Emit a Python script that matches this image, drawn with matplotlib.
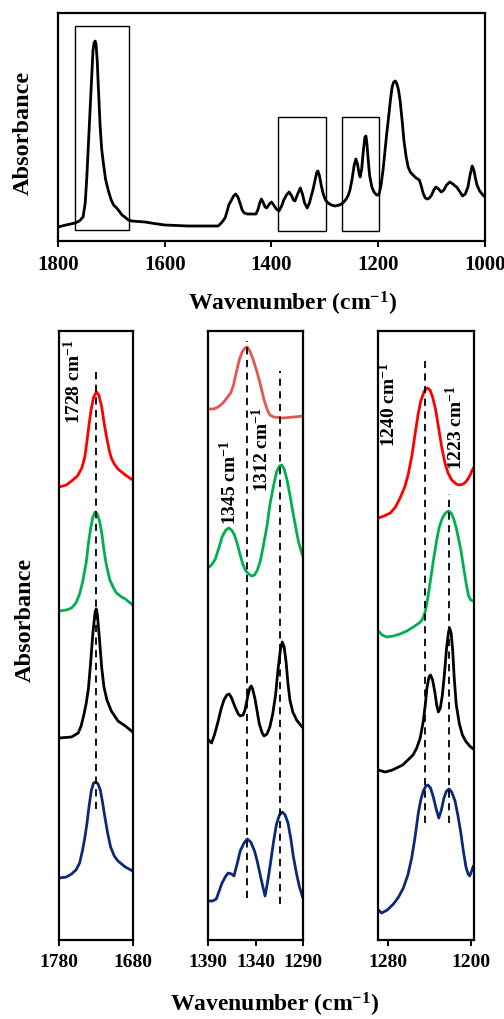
import matplotlib
matplotlib.use("Agg")
import matplotlib.pyplot as plt
import matplotlib.patches as patches

plt.rcParams['font.family'] = ['Liberation Serif', 'DejaVu Serif']
plt.rcParams['font.weight'] = 'bold'
plt.rcParams['mathtext.fontset'] = 'custom'
plt.rcParams['mathtext.rm'] = 'Liberation Serif:bold'
plt.rcParams['mathtext.bf'] = 'Liberation Serif:bold'
plt.rcParams['mathtext.default'] = 'bf'

# full spectrum, (wavenumber, absorbance a.u.)
full_spec = [
    (1800, 0.14), (1785, 0.16), (1768, 0.18), (1760, 0.20), (1753, 0.24), (1749, 0.38),
    (1746, 0.64), (1743, 0.97), (1740, 1.31), (1737, 1.64), (1734.5, 1.90), (1732.5, 1.98),
    (1730.5, 2.00), (1728.8, 1.97), (1726.5, 1.80), (1724.5, 1.55), (1721, 1.14), (1718, 0.91),
    (1715, 0.78), (1711, 0.62), (1706, 0.51), (1701, 0.42), (1696, 0.36), (1690, 0.33),
    (1687, 0.31), (1680, 0.26), (1675, 0.24), (1668, 0.21), (1662, 0.20), (1650, 0.195),
    (1637, 0.19), (1620, 0.175), (1600, 0.16), (1580, 0.155), (1556, 0.15), (1530, 0.15),
    (1500, 0.15), (1494, 0.18), (1487, 0.23), (1483, 0.30), (1480, 0.36), (1475, 0.41),
    (1471, 0.45), (1467, 0.47), (1463, 0.44), (1459, 0.38), (1455, 0.31), (1451, 0.28),
    (1445, 0.27), (1440, 0.27), (1429, 0.27), (1425, 0.32), (1422, 0.38), (1419, 0.42),
    (1416, 0.39), (1412, 0.34), (1409, 0.33), (1404, 0.37), (1400, 0.39), (1396, 0.36),
    (1391, 0.32), (1386, 0.30), (1381, 0.35), (1377, 0.41), (1372, 0.46), (1367, 0.49),
    (1362, 0.45), (1359, 0.41), (1356, 0.40), (1351, 0.47), (1346, 0.53), (1342, 0.47),
    (1338, 0.38), (1333, 0.33), (1329, 0.38), (1325, 0.46), (1322, 0.52), (1318, 0.62),
    (1315, 0.69), (1313, 0.70), (1310, 0.65), (1307, 0.56), (1303, 0.47), (1299, 0.41),
    (1294, 0.38), (1288, 0.36), (1281, 0.35), (1273, 0.36), (1266, 0.38), (1260, 0.42),
    (1256, 0.46), (1253, 0.51), (1249, 0.62), (1245, 0.76), (1242, 0.82), (1239, 0.77),
    (1236, 0.68), (1234, 0.64), (1231, 0.72), (1228, 0.90), (1225, 1.04), (1223, 1.05),
    (1221, 0.96), (1218, 0.76), (1216, 0.65), (1212, 0.54), (1208, 0.49), (1203, 0.46),
    (1199, 0.46), (1195, 0.55), (1191, 0.71), (1187, 0.92), (1184, 1.08), (1181, 1.22),
    (1177, 1.42), (1174, 1.54), (1171, 1.59), (1168, 1.60), (1165, 1.57), (1162, 1.51),
    (1159, 1.40), (1155, 1.19), (1152, 1.01), (1148, 0.85), (1144, 0.74), (1140, 0.69),
    (1135, 0.66), (1129, 0.63), (1123, 0.61), (1120, 0.56), (1116, 0.48), (1112, 0.43),
    (1108, 0.42), (1104, 0.43), (1100, 0.46), (1096, 0.51), (1092, 0.54), (1087, 0.52),
    (1082, 0.49), (1077, 0.51), (1072, 0.56), (1066, 0.59), (1060, 0.57), (1056, 0.55),
    (1053, 0.54), (1048, 0.50), (1042, 0.45), (1037, 0.47), (1032, 0.54), (1028, 0.66),
    (1024, 0.75), (1021, 0.71), (1018, 0.63), (1015, 0.56), (1010, 0.50), (1004, 0.46),
    (1000, 0.44)]
# highlighted regions: (wn high, wn low, abs low, abs high)
boxes = [(1768, 1666.5, 0.11, 2.15), (1387.5, 1298, 0.10, 1.24), (1268, 1198.3, 0.10, 1.24)]

# zoomed panel 1 (C=O region), stacked curves
p1_red = [(1780, 4.53), (1770, 4.55), (1763, 4.59), (1755, 4.64), (1749, 4.72), (1745, 4.83),
          (1742, 4.99), (1739, 5.17), (1736, 5.32), (1733, 5.43), (1729, 5.48), (1726, 5.45),
          (1722, 5.33), (1719, 5.18), (1716, 5.05), (1712, 4.90), (1709, 4.82), (1705, 4.76),
          (1700, 4.71), (1695, 4.68), (1690, 4.65), (1680, 4.60)]
p1_green = [(1780, 3.29), (1770, 3.30), (1763, 3.32), (1757, 3.37), (1752, 3.46), (1748, 3.58),
            (1743, 3.78), (1740, 3.97), (1737, 4.12), (1734, 4.23), (1731, 4.28), (1728, 4.26),
            (1725, 4.19), (1722, 4.07), (1719, 3.90), (1716, 3.76), (1711, 3.60), (1706, 3.52),
            (1702, 3.47), (1695, 3.43), (1690, 3.41), (1680, 3.35)]
p1_black = [(1780, 2.02), (1763, 2.03), (1754, 2.07), (1750, 2.14), (1746, 2.26), (1743, 2.37),
            (1740, 2.52), (1737, 2.78), (1734, 3.07), (1731, 3.28), (1729.5, 3.31), (1728, 3.26),
            (1725, 3.00), (1722, 2.72), (1719, 2.53), (1715, 2.40), (1709, 2.29), (1700, 2.19),
            (1690, 2.14), (1680, 2.08)]
p1_blue = [(1780, 0.62), (1770, 0.63), (1763, 0.66), (1757, 0.70), (1752, 0.77), (1748, 0.90),
           (1745, 1.02), (1742, 1.17), (1739, 1.35), (1736, 1.50), (1733, 1.57), (1730, 1.58),
           (1727, 1.56), (1724, 1.50), (1721, 1.38), (1718, 1.24), (1714, 1.07), (1710, 0.93),
           (1705, 0.84), (1700, 0.79), (1690, 0.73), (1680, 0.69)]

# zoomed panel 2 (1390-1290)
p2_red = [(1390, 5.31), (1384, 5.31), (1379, 5.33), (1374, 5.37), (1370, 5.42), (1366, 5.47),
          (1363, 5.55), (1360, 5.68), (1357, 5.80), (1354, 5.88), (1351, 5.92), (1348.5, 5.93),
          (1346, 5.89), (1343, 5.82), (1339, 5.70), (1335, 5.56), (1331, 5.40), (1328, 5.31),
          (1325, 5.25), (1321, 5.23), (1311, 5.22), (1300, 5.23), (1290, 5.24)]
p2_green = [(1390, 3.72), (1386, 3.75), (1382, 3.81), (1378, 3.93), (1375, 4.03), (1371, 4.10),
            (1368, 4.12), (1365, 4.10), (1362, 4.05), (1359, 3.96), (1356, 3.85), (1353, 3.75),
            (1350, 3.69), (1347, 3.66), (1344, 3.64), (1341, 3.65), (1338, 3.70), (1335, 3.79),
            (1332, 3.93), (1328, 4.14), (1325, 4.35), (1321, 4.55), (1318, 4.68), (1315, 4.74),
            (1312.5, 4.75), (1310, 4.71), (1307, 4.60), (1304, 4.45), (1300.5, 4.26),
            (1297, 4.08), (1295, 3.98), (1292, 3.88), (1290, 3.83)]
p2_black = [(1390, 2.01), (1386, 1.97), (1383, 2.05), (1379, 2.19), (1376, 2.31), (1373, 2.40),
            (1370, 2.45), (1367.5, 2.46), (1365, 2.42), (1361, 2.32), (1358, 2.26), (1356, 2.24),
            (1353, 2.25), (1351, 2.30), (1348, 2.44), (1346, 2.52), (1344.5, 2.54), (1343, 2.51),
            (1340.5, 2.41), (1338, 2.27), (1336, 2.16), (1333, 2.07), (1331, 2.04), (1328, 2.06),
            (1325, 2.13), (1322, 2.26), (1319, 2.45), (1316.5, 2.70), (1314, 2.90), (1312, 2.98),
            (1310, 2.93), (1308, 2.78), (1306, 2.56), (1304, 2.40), (1301, 2.28), (1297, 2.20),
            (1293, 2.15), (1290, 2.12)]
p2_blue = [(1390, 0.39), (1385, 0.39), (1381, 0.41), (1378, 0.49), (1375, 0.57), (1371, 0.64),
           (1368.5, 0.67), (1365, 0.66), (1362.5, 0.64), (1359, 0.77), (1356, 0.89), (1352, 0.97),
           (1348.6, 1.01), (1345, 0.98), (1341, 0.89), (1338, 0.78), (1334.6, 0.63), (1332, 0.52),
           (1330, 0.44), (1327, 0.60), (1324, 0.79), (1321, 0.99), (1318, 1.16), (1315, 1.25),
           (1312, 1.28), (1309, 1.25), (1306, 1.17), (1303, 1.01), (1300.5, 0.84), (1297, 0.66),
           (1294, 0.53), (1290, 0.41)]

# zoomed panel 3 (1290-1197)
p3_red = [(1289.7, 4.22), (1284, 4.24), (1278, 4.27), (1273, 4.33), (1268.6, 4.42), (1264, 4.53),
          (1260.6, 4.66), (1257, 4.85), (1254, 5.06), (1251, 5.26), (1248.5, 5.39), (1245, 5.49),
          (1242, 5.52), (1239.5, 5.50), (1237, 5.43), (1234, 5.30), (1231, 5.11), (1228, 4.92),
          (1225, 4.77), (1222, 4.67), (1218.4, 4.60), (1214, 4.56), (1211, 4.55), (1207, 4.56),
          (1204, 4.59), (1201, 4.64), (1197.5, 4.72)]
p3_green = [(1289.7, 3.09), (1286, 3.05), (1281.5, 3.03), (1275, 3.04), (1268.6, 3.06),
            (1262, 3.09), (1255.7, 3.13), (1250, 3.17), (1246.6, 3.21), (1244, 3.29),
            (1241.2, 3.45), (1239, 3.60), (1236.3, 3.79), (1233, 4.00), (1230.5, 4.13),
            (1227.5, 4.22), (1224.5, 4.27), (1221.5, 4.29), (1219, 4.27), (1216.5, 4.21),
            (1214, 4.12), (1211.5, 4.00), (1209.4, 3.89), (1206.5, 3.70), (1204, 3.54),
            (1202, 3.44), (1200, 3.40), (1197.5, 3.39)]
p3_black = [(1289.7, 1.70), (1283, 1.68), (1276, 1.70), (1272, 1.72), (1266, 1.75), (1262, 1.79),
            (1256, 1.85), (1252.4, 1.92), (1249, 2.02), (1246, 2.19), (1244, 2.36),
            (1242.5, 2.52), (1240.5, 2.63), (1239, 2.65), (1237, 2.60), (1235, 2.49),
            (1233, 2.35), (1231.4, 2.28), (1229.5, 2.32), (1227.5, 2.45), (1225.5, 2.66),
            (1223.5, 2.91), (1221.5, 3.08), (1220.5, 3.12), (1219, 3.07), (1217.5, 2.90),
            (1216, 2.62), (1214, 2.35), (1211, 2.16), (1208, 2.05), (1205, 1.99), (1201, 1.94),
            (1197.5, 1.91)]
p3_blue = [(1289.7, 0.30), (1286.4, 0.27), (1281, 0.30), (1275, 0.36), (1270, 0.43),
           (1265.4, 0.52), (1261, 0.65), (1257.3, 0.82), (1254, 1.03), (1251, 1.26),
           (1248.5, 1.40), (1246, 1.49), (1243.5, 1.54), (1241.5, 1.55), (1239, 1.52),
           (1236.3, 1.43), (1233.5, 1.31), (1231, 1.22), (1228.5, 1.30), (1226, 1.42),
           (1223.5, 1.49), (1221, 1.51), (1218.5, 1.48), (1215.2, 1.39), (1212.5, 1.25),
           (1209.7, 1.08), (1207, 0.88), (1204.6, 0.73), (1202.5, 0.66), (1201, 0.64),
           (1199, 0.69), (1197.5, 0.74)]

# dashed marker lines: (wn, a bottom, a top)
p1_marks = [(1730, 1.31, 5.69)]
p2_marks = [(1348.6, 0.42, 5.99), (1314.4, 0.36, 5.69)]
p3_marks = [(1244.4, 1.17, 5.79), (1221.1, 1.17, 4.46)]
# peak labels: (text, wn, a)
p1_labels = [('1728', 1760.6, 5.58)]
p2_labels = [('1345', 1366.7, 4.57), ('1312', 1333.5, 4.90)]
p3_labels = [('1240', 1280.0, 5.35), ('1223', 1215.2, 5.12)]

RED = '#FF0000'
RED_LIGHT = '#E8554E'
GREEN = '#00B050'
BLUE = '#0A2A78'
LW = 2.0

W, H = 504, 1019
fig = plt.figure(figsize=(W / 100, H / 100), dpi=100)


def style_axes(ax, fontsize):
    for spine in ax.spines.values():
        spine.set_linewidth(1.6)
        spine.set_color('black')
    ax.set_yticks([])
    ax.tick_params(axis='x', direction='out', length=4, width=1.4,
                   labelsize=fontsize, pad=6)
    for lab in ax.get_xticklabels():
        lab.set_fontweight('bold')


def draw(ax, pts, color, lw=LW):
    xs, ys = zip(*pts)
    ax.plot(xs, ys, color=color, lw=lw, solid_joinstyle='round', solid_capstyle='round')


# top panel
ax0 = fig.add_axes([58 / W, 1 - 241 / H, 427 / W, 228 / H])
draw(ax0, full_spec, 'black')
for hi, lo, ylo, yhi in boxes:
    ax0.add_patch(patches.Rectangle((lo, ylo), hi - lo, yhi - ylo, fill=False,
                                    edgecolor='black', lw=1.0))
ax0.set_xlim(1800, 1000)
ax0.set_ylim(0, 2.28)
ax0.set_xticks([1800, 1600, 1400, 1200, 1000])
style_axes(ax0, 15)
fig.text(23 / W, 1 - 133 / H, 'Absorbance', rotation=90, ha='center', va='center',
         fontsize=17.5, fontweight='bold')
fig.text(293 / W, 1 - 304 / H, r'Wavenumber (cm$^{-1}$)', ha='center', va='center',
         fontsize=17, fontweight='bold')

# zoomed panels
panels = [
    (59, 73.7, (1780, 1680), [1780, 1680],
     [(p1_red, RED), (p1_green, GREEN), (p1_black, 'black'), (p1_blue, BLUE)],
     p1_marks, p1_labels),
    (207.7, 95.6, (1390, 1290), [1390, 1340, 1290],
     [(p2_red, RED_LIGHT), (p2_green, GREEN), (p2_black, 'black'), (p2_blue, BLUE)],
     p2_marks, p2_labels),
    (378.3, 95.7, (1289.7, 1196.8), [1280, 1200],
     [(p3_red, RED), (p3_green, GREEN), (p3_black, 'black'), (p3_blue, BLUE)],
     p3_marks, p3_labels),
]

for left, width, xlim, ticks, curves, marks, labels in panels:
    ax = fig.add_axes([left / W, 1 - 940 / H, width / W, 609.3 / H])
    for pts, col in curves:
        draw(ax, pts, col)
    for wn, y0, y1 in marks:
        ax.plot([wn, wn], [y0, y1], color='black', lw=1.3, ls=(0, (4, 3)))
    for txt, wn, y in labels:
        ax.text(wn, y, txt + r' cm$^{-1}$', rotation=90, ha='center', va='center',
                fontsize=14, fontweight='bold')
    ax.set_xlim(*xlim)
    ax.set_ylim(0, 6.093)
    ax.set_xticks(ticks)
    style_axes(ax, 14)

fig.text(25 / W, 1 - 620 / H, 'Absorbance', rotation=90, ha='center', va='center',
         fontsize=17.5, fontweight='bold')
fig.text(275 / W, 1 - 1005 / H, r'Wavenumber (cm$^{-1}$)', ha='center', va='center',
         fontsize=17, fontweight='bold')

fig.savefig('out.png', dpi=100)
